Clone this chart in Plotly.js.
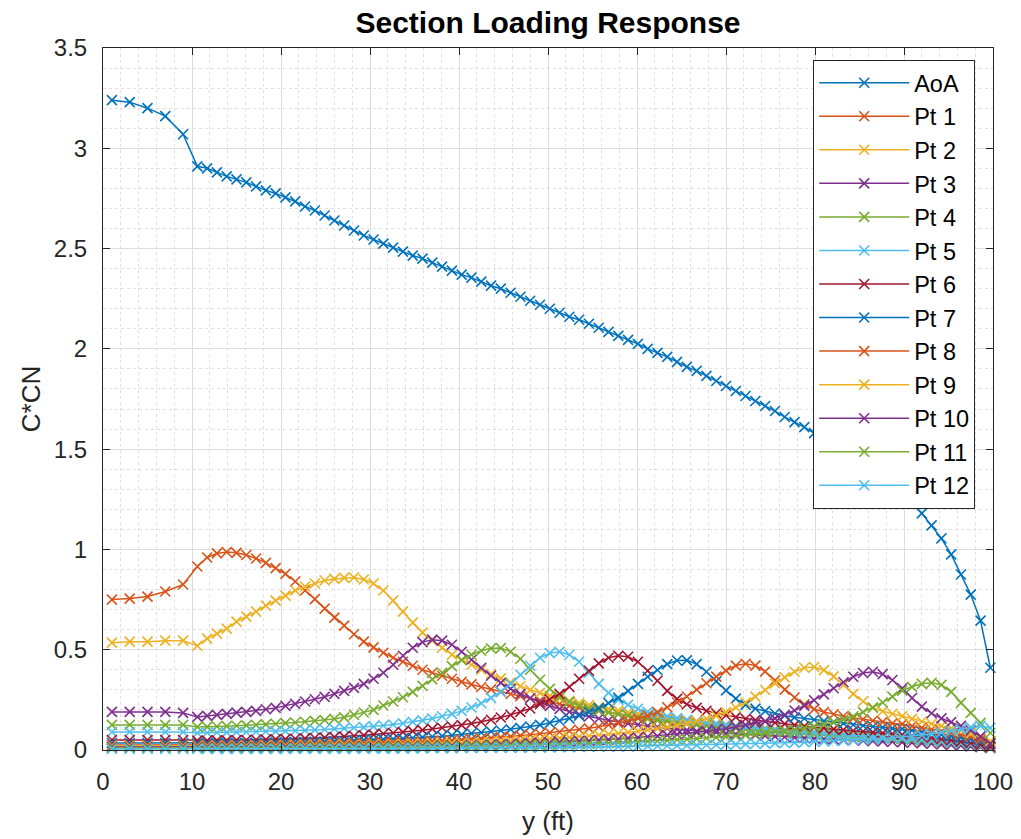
<!DOCTYPE html>
<html>
<head>
<meta charset="utf-8">
<script src="https://cdn.plot.ly/plotly-3.0.1.min.js"></script>
<style>html,body{margin:0;padding:0;background:#fff;}#chart{width:1021px;height:839px;}</style>
</head>
<body>
<div id="chart"></div>
<script>
// spanwise stations (ft)
const ySpan = [1, 3, 5, 7, 9,
  10.6, 11.7, 12.8, 13.9, 15.0, 16.1, 17.2, 18.3, 19.4, 20.5,
  21.6, 22.7, 23.8, 24.9, 26.0, 27.1, 28.2, 29.3, 30.4, 31.5,
  32.6, 33.7, 34.8, 35.9, 37.0, 38.1, 39.2, 40.3, 41.4, 42.5,
  43.6, 44.7, 45.8, 46.9, 48.0, 49.1, 50.2, 51.3, 52.4, 53.5,
  54.6, 55.7, 56.8, 57.9, 59.0, 60.1, 61.2, 62.3, 63.4, 64.5,
  65.6, 66.7, 67.8, 68.9, 70.0, 71.1, 72.2, 73.3, 74.4, 75.5,
  76.6, 77.7, 78.8, 79.9, 81.0, 82.1, 83.2, 84.3, 85.4, 86.5,
  87.6, 88.7, 89.8, 90.9, 92.0, 93.1, 94.2, 95.3, 96.4, 97.5,
  98.6, 99.7];

const aoa = [3.24, 3.23, 3.20, 3.16, 3.07,
  2.91, 2.90, 2.88, 2.86, 2.845, 2.83, 2.81, 2.79, 2.775, 2.755,
  2.735, 2.71, 2.69, 2.665, 2.64, 2.615, 2.59, 2.565, 2.545, 2.525,
  2.505, 2.485, 2.465, 2.45, 2.43, 2.41, 2.39, 2.37, 2.355, 2.335,
  2.315, 2.30, 2.28, 2.26, 2.24, 2.22, 2.20, 2.18, 2.16, 2.145,
  2.125, 2.105, 2.085, 2.065, 2.045, 2.025, 2.00, 1.98, 1.96, 1.935,
  1.91, 1.89, 1.865, 1.84, 1.815, 1.79, 1.765, 1.74, 1.715, 1.69,
  1.66, 1.635, 1.61, 1.58, 1.55, 1.52, 1.49, 1.455, 1.42, 1.385,
  1.35, 1.31, 1.27, 1.23, 1.18, 1.12, 1.055, 0.975, 0.875, 0.775,
  0.645, 0.41];

const pt1 = [0.75, 0.755, 0.765, 0.79, 0.825,
  0.915, 0.96, 0.98, 0.987, 0.983, 0.972, 0.955, 0.933, 0.907, 0.878,
  0.84, 0.795, 0.752, 0.705, 0.66, 0.62, 0.577, 0.54, 0.512, 0.485,
  0.46, 0.44, 0.42, 0.40, 0.385, 0.37, 0.355, 0.34, 0.327, 0.314,
  0.302, 0.29, 0.279, 0.268, 0.258, 0.248, 0.238, 0.229, 0.22, 0.211,
  0.203, 0.195, 0.187, 0.18, 0.173, 0.166, 0.16, 0.154, 0.148, 0.143,
  0.138, 0.133, 0.128, 0.124, 0.12, 0.116, 0.112, 0.108, 0.105, 0.102,
  0.098, 0.095, 0.092, 0.089, 0.086, 0.083, 0.08, 0.077, 0.074, 0.071,
  0.068, 0.065, 0.062, 0.057, 0.053, 0.048, 0.043, 0.038, 0.033, 0.027,
  0.021, 0.014];

const pt2 = [0.535, 0.54, 0.54, 0.545, 0.545,
  0.52, 0.555, 0.58, 0.605, 0.64, 0.665, 0.69, 0.72, 0.745, 0.77,
  0.795, 0.815, 0.83, 0.845, 0.853, 0.858, 0.86, 0.85, 0.83, 0.795,
  0.745, 0.69, 0.635, 0.585, 0.545, 0.51, 0.475, 0.45, 0.425, 0.40,
  0.378, 0.357, 0.337, 0.318, 0.30, 0.285, 0.27, 0.257, 0.245, 0.234,
  0.224, 0.214, 0.205, 0.196, 0.188, 0.18, 0.173, 0.166, 0.16, 0.154,
  0.148, 0.142, 0.137, 0.132, 0.127, 0.122, 0.118, 0.114, 0.11, 0.106,
  0.102, 0.099, 0.095, 0.092, 0.089, 0.086, 0.083, 0.08, 0.077, 0.074,
  0.071, 0.068, 0.065, 0.06, 0.055, 0.05, 0.045, 0.04, 0.034, 0.028,
  0.022, 0.015];

const pt3 = [0.19, 0.19, 0.19, 0.19, 0.185,
  0.165, 0.17, 0.175, 0.18, 0.186, 0.19, 0.195, 0.203, 0.21, 0.22,
  0.23, 0.242, 0.253, 0.265, 0.28, 0.295, 0.31, 0.33, 0.355, 0.385,
  0.425, 0.47, 0.51, 0.538, 0.55, 0.545, 0.525, 0.49, 0.45, 0.41,
  0.37, 0.335, 0.305, 0.28, 0.258, 0.238, 0.22, 0.205, 0.19, 0.178,
  0.167, 0.157, 0.148, 0.14, 0.133, 0.126, 0.12, 0.114, 0.109, 0.104,
  0.099, 0.095, 0.091, 0.087, 0.083, 0.08, 0.077, 0.074, 0.071, 0.068,
  0.065, 0.063, 0.06, 0.058, 0.055, 0.053, 0.051, 0.049, 0.047, 0.045,
  0.043, 0.041, 0.039, 0.036, 0.034, 0.031, 0.028, 0.025, 0.022, 0.018,
  0.014, 0.009];

const pt4 = [0.125, 0.125, 0.125, 0.125, 0.125,
  0.115, 0.115, 0.117, 0.119, 0.121, 0.123, 0.125, 0.128, 0.131, 0.134,
  0.137, 0.141, 0.145, 0.149, 0.155, 0.163, 0.175, 0.187, 0.2, 0.222,
  0.242, 0.263, 0.29, 0.32, 0.352, 0.385, 0.418, 0.448, 0.475, 0.495,
  0.507, 0.508, 0.49, 0.455, 0.40, 0.35, 0.305, 0.265, 0.24, 0.222,
  0.208, 0.197, 0.187, 0.178, 0.17, 0.162, 0.155, 0.148, 0.142, 0.136,
  0.13, 0.125, 0.12, 0.115, 0.111, 0.107, 0.103, 0.099, 0.095, 0.092,
  0.088, 0.085, 0.082, 0.079, 0.076, 0.073, 0.07, 0.067, 0.065, 0.062,
  0.06, 0.057, 0.055, 0.051, 0.048, 0.044, 0.04, 0.036, 0.031, 0.026,
  0.02, 0.013];

const pt5 = [0.09, 0.09, 0.09, 0.09, 0.09,
  0.085, 0.086, 0.087, 0.088, 0.089, 0.09, 0.091, 0.092, 0.093, 0.094,
  0.096, 0.098, 0.1, 0.102, 0.105, 0.108, 0.111, 0.114, 0.118, 0.122,
  0.127, 0.133, 0.14, 0.148, 0.157, 0.168, 0.18, 0.195, 0.212, 0.233,
  0.26, 0.29, 0.33, 0.375, 0.42, 0.46, 0.483, 0.49, 0.475, 0.44,
  0.385, 0.33, 0.285, 0.25, 0.225, 0.205, 0.19, 0.178, 0.168, 0.159,
  0.151, 0.144, 0.137, 0.131, 0.125, 0.12, 0.115, 0.11, 0.106, 0.102,
  0.098, 0.094, 0.09, 0.087, 0.083, 0.08, 0.077, 0.074, 0.071, 0.068,
  0.065, 0.063, 0.06, 0.056, 0.053, 0.048, 0.044, 0.039, 0.034, 0.028,
  0.022, 0.014];

const pt6 = [0.05, 0.05, 0.05, 0.05, 0.05,
  0.047, 0.047, 0.048, 0.048, 0.049, 0.05, 0.051, 0.052, 0.053, 0.054,
  0.056, 0.058, 0.06, 0.062, 0.064, 0.067, 0.07, 0.073, 0.077, 0.081,
  0.085, 0.089, 0.094, 0.099, 0.105, 0.111, 0.117, 0.124, 0.132, 0.141,
  0.151, 0.162, 0.175, 0.19, 0.207, 0.228, 0.252, 0.28, 0.315, 0.355,
  0.395, 0.432, 0.46, 0.47, 0.465, 0.44, 0.395, 0.345, 0.295, 0.255,
  0.228, 0.21, 0.195, 0.183, 0.173, 0.164, 0.156, 0.149, 0.142, 0.136,
  0.13, 0.124, 0.119, 0.114, 0.109, 0.104, 0.1, 0.096, 0.092, 0.088,
  0.084, 0.081, 0.077, 0.072, 0.067, 0.061, 0.055, 0.049, 0.042, 0.035,
  0.027, 0.017];

const pt7 = [0.035, 0.035, 0.035, 0.035, 0.035,
  0.033, 0.033, 0.034, 0.034, 0.035, 0.035, 0.036, 0.036, 0.037, 0.038,
  0.039, 0.04, 0.041, 0.042, 0.043, 0.045, 0.047, 0.049, 0.051, 0.053,
  0.055, 0.057, 0.06, 0.063, 0.066, 0.069, 0.073, 0.077, 0.082, 0.087,
  0.092, 0.097, 0.103, 0.11, 0.117, 0.125, 0.135, 0.146, 0.158, 0.171,
  0.189, 0.209, 0.234, 0.261, 0.295, 0.33, 0.365, 0.399, 0.428, 0.446,
  0.447, 0.428, 0.39, 0.342, 0.297, 0.256, 0.225, 0.206, 0.194, 0.182,
  0.171, 0.163, 0.157, 0.151, 0.144, 0.139, 0.133, 0.126, 0.121, 0.117,
  0.113, 0.108, 0.105, 0.098, 0.091, 0.084, 0.077, 0.069, 0.062, 0.054,
  0.043, 0.03];

const pt8 = [0.025, 0.025, 0.025, 0.025, 0.025,
  0.024, 0.024, 0.024, 0.025, 0.025, 0.025, 0.026, 0.026, 0.027, 0.027,
  0.028, 0.029, 0.03, 0.031, 0.032, 0.033, 0.034, 0.035, 0.036, 0.037,
  0.038, 0.039, 0.04, 0.042, 0.044, 0.046, 0.048, 0.051, 0.054, 0.057,
  0.06, 0.063, 0.067, 0.072, 0.076, 0.081, 0.086, 0.09, 0.095, 0.102,
  0.108, 0.116, 0.125, 0.133, 0.146, 0.157, 0.172, 0.189, 0.213, 0.237,
  0.267, 0.301, 0.333, 0.366, 0.396, 0.421, 0.43, 0.421, 0.391, 0.348,
  0.301, 0.262, 0.228, 0.204, 0.189, 0.178, 0.168, 0.159, 0.153, 0.146,
  0.14, 0.133, 0.129, 0.119, 0.11, 0.102, 0.094, 0.085, 0.076, 0.066,
  0.053, 0.037];

const pt9 = [0.02, 0.02, 0.02, 0.02, 0.02,
  0.019, 0.019, 0.019, 0.02, 0.02, 0.02, 0.02, 0.021, 0.021, 0.021,
  0.022, 0.022, 0.023, 0.023, 0.024, 0.024, 0.025, 0.025, 0.026, 0.026,
  0.027, 0.028, 0.029, 0.03, 0.031, 0.032, 0.033, 0.034, 0.036, 0.038,
  0.04, 0.042, 0.044, 0.047, 0.05, 0.052, 0.056, 0.059, 0.063, 0.066,
  0.07, 0.075, 0.079, 0.083, 0.088, 0.094, 0.1, 0.107, 0.114, 0.122,
  0.133, 0.143, 0.156, 0.17, 0.189, 0.212, 0.237, 0.266, 0.299, 0.332,
  0.362, 0.39, 0.41, 0.414, 0.398, 0.367, 0.324, 0.28, 0.243, 0.212,
  0.193, 0.181, 0.169, 0.155, 0.142, 0.131, 0.12, 0.109, 0.097, 0.083,
  0.066, 0.045];

const pt10 = [0.015, 0.015, 0.015, 0.015, 0.015,
  0.014, 0.014, 0.014, 0.014, 0.015, 0.015, 0.015, 0.015, 0.015, 0.016,
  0.016, 0.016, 0.016, 0.017, 0.017, 0.017, 0.018, 0.018, 0.018, 0.019,
  0.019, 0.02, 0.02, 0.021, 0.021, 0.022, 0.022, 0.023, 0.024, 0.025,
  0.027, 0.028, 0.03, 0.032, 0.034, 0.035, 0.037, 0.039, 0.041, 0.044,
  0.046, 0.049, 0.052, 0.055, 0.059, 0.062, 0.066, 0.069, 0.074, 0.078,
  0.082, 0.088, 0.094, 0.099, 0.106, 0.115, 0.125, 0.135, 0.144, 0.158,
  0.176, 0.197, 0.22, 0.248, 0.277, 0.308, 0.338, 0.365, 0.384, 0.39,
  0.378, 0.349, 0.308, 0.259, 0.216, 0.183, 0.158, 0.139, 0.12, 0.098,
  0.068, 0.032];

const pt11 = [0.01, 0.01, 0.01, 0.01, 0.01,
  0.01, 0.01, 0.01, 0.01, 0.01, 0.01, 0.01, 0.01, 0.01, 0.01,
  0.011, 0.011, 0.011, 0.012, 0.012, 0.012, 0.013, 0.013, 0.013, 0.014,
  0.014, 0.015, 0.015, 0.016, 0.016, 0.017, 0.017, 0.018, 0.019, 0.019,
  0.02, 0.021, 0.022, 0.023, 0.024, 0.025, 0.027, 0.028, 0.029, 0.03,
  0.032, 0.033, 0.035, 0.037, 0.039, 0.041, 0.043, 0.045, 0.048, 0.051,
  0.054, 0.057, 0.06, 0.063, 0.067, 0.07, 0.074, 0.079, 0.084, 0.09,
  0.095, 0.102, 0.109, 0.118, 0.128, 0.139, 0.152, 0.168, 0.189, 0.211,
  0.237, 0.266, 0.296, 0.315, 0.33, 0.335, 0.325, 0.29, 0.235, 0.185,
  0.135, 0.085];

const pt12 = [0.005, 0.005, 0.005, 0.005, 0.005,
  0.005, 0.005, 0.005, 0.005, 0.005, 0.005, 0.005, 0.005, 0.005, 0.005,
  0.006, 0.006, 0.006, 0.006, 0.006, 0.007, 0.007, 0.007, 0.007, 0.007,
  0.007, 0.008, 0.008, 0.008, 0.009, 0.009, 0.009, 0.01, 0.01, 0.01,
  0.011, 0.011, 0.011, 0.012, 0.012, 0.013, 0.013, 0.014, 0.014, 0.015,
  0.015, 0.016, 0.016, 0.017, 0.018, 0.018, 0.019, 0.02, 0.021, 0.022,
  0.023, 0.024, 0.025, 0.026, 0.027, 0.028, 0.029, 0.031, 0.032, 0.034,
  0.035, 0.037, 0.039, 0.041, 0.043, 0.045, 0.047, 0.05, 0.052, 0.055,
  0.058, 0.061, 0.065, 0.069, 0.074, 0.08, 0.087, 0.095, 0.104, 0.113,
  0.12, 0.11];

const seriesNames = ['AoA', 'Pt 1', 'Pt 2', 'Pt 3', 'Pt 4', 'Pt 5', 'Pt 6',
  'Pt 7', 'Pt 8', 'Pt 9', 'Pt 10', 'Pt 11', 'Pt 12'];
const seriesValues = [aoa, pt1, pt2, pt3, pt4, pt5, pt6, pt7, pt8, pt9, pt10, pt11, pt12];
const xTicks = [0, 10, 20, 30, 40, 50, 60, 70, 80, 90, 100];
const yTicks = [0, 0.5, 1, 1.5, 2, 2.5, 3, 3.5];

const palette = ['#0072BD', '#D95319', '#EDB120', '#7E2F8E', '#77AC30', '#4DBEEE', '#A2142F'];
const FONT = 'Liberation Sans, Arial, Helvetica, sans-serif';
const INK = '#262626';

const traces = seriesNames.map((name, i) => {
  const c = palette[i % 7];
  return {
    type: 'scatter', mode: 'lines+markers', name: name,
    x: ySpan, y: seriesValues[i],
    line: {color: c, width: 1.5},
    marker: {symbol: 'x-thin-open', size: 10, color: c, line: {color: c, width: 1.6}},
    cliponaxis: false
  };
});

const axisCommon = {
  ticks: 'inside', ticklen: 7, tickwidth: 1, tickcolor: INK,
  showline: true, linecolor: INK, linewidth: 1, mirror: 'ticks',
  showgrid: true, gridcolor: '#dcdcdc', gridwidth: 1, zeroline: false,
  tickfont: {family: FONT, size: 24, color: INK},
  tickmode: 'array'
};

const layout = {
  width: 1021, height: 839,
  margin: {l: 103, r: 28, t: 48, b: 89},
  paper_bgcolor: '#ffffff', plot_bgcolor: '#ffffff',
  showlegend: true,
  title: {text: '<b>Section Loading Response</b>', x: 0.5, xref: 'paper', xanchor: 'center',
    y: 0.973, yref: 'container', yanchor: 'middle',
    font: {family: FONT, size: 30, color: '#000000'}},
  xaxis: Object.assign({}, axisCommon, {
    range: [0, 100], tickvals: xTicks, ticktext: xTicks.map(String),
    ticklabelstandoff: 10,
    minor: {tickmode: 'linear', tick0: 0, dtick: 2, showgrid: true, gridcolor: '#e0e0e0', griddash: 'dot', gridwidth: 1, ticks: ''},
    title: {text: 'y (ft)', font: {family: FONT, size: 26, color: INK}, standoff: 18}
  }),
  yaxis: Object.assign({}, axisCommon, {
    range: [0, 3.5], tickvals: yTicks, ticktext: yTicks.map(String),
    ticklabelstandoff: 10,
    minor: {tickmode: 'linear', tick0: 0, dtick: 0.1, showgrid: true, gridcolor: '#e0e0e0', griddash: 'dot', gridwidth: 1, ticks: ''},
    title: {text: 'C*CN', font: {family: FONT, size: 26, color: INK}, standoff: 5}
  }),
  legend: {
    x: 0.98, xanchor: 'right', y: 0.983, yanchor: 'top',
    bgcolor: '#ffffff', bordercolor: INK, borderwidth: 1,
    font: {family: FONT, size: 23.5, color: '#000000'},
    itemwidth: 90, tracegroupgap: 0
  }
};

Plotly.newPlot('chart', traces, layout, {displayModeBar: false, staticPlot: true});
</script>
</body>
</html>
